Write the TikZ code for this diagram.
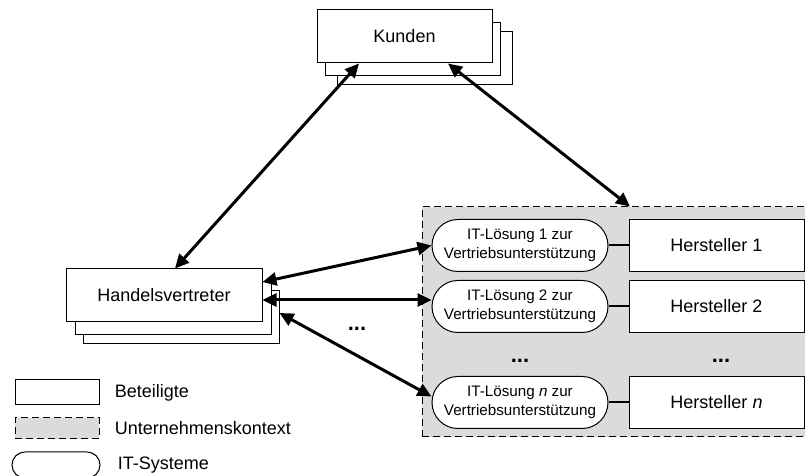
\documentclass[tikz,border=0pt]{standalone}
\usepackage{fontspec}
\setmainfont{Liberation Sans}
\usetikzlibrary{arrows.meta,positioning,shapes.misc}

\begin{document}
\begin{tikzpicture}[x=0.5pt,y=-0.5pt,
  party/.style={draw,fill=white,line width=0.5pt,minimum height=26.5pt,inner sep=0pt,font=\fontsize{9}{11}\selectfont},
  itsys/.style={rounded rectangle,draw,fill=white,line width=0.5pt,minimum width=88pt,minimum height=26pt,inner sep=0pt,align=center,font=\fontsize{7.6}{9.5}\selectfont},
  ctxarea/.style={draw,dash pattern=on 3.5pt off 2pt,fill=black!14,line width=0.5pt,inner sep=0pt},
  link/.style={{Triangle[length=7pt,width=6.5pt]}-{Triangle[length=7pt,width=6.5pt]},line width=1.5pt},
  dots/.style={anchor=base,inner sep=0pt,font=\fontsize{11}{13}\selectfont\bfseries},
  legendtext/.style={inner sep=0pt,font=\fontsize{9}{11}\selectfont}
]
  \useasboundingbox (0,0) rectangle (805,476);

  % Kunden
  \node[party,minimum width=87.5pt] (kd3) at (425,58.5) {};
  \node[party,minimum width=87.5pt] (kd2) at (412.5,49.5) {};
  \node[party,minimum width=87.5pt] (kd) at (404.5,36.5) {Kunden};

  % Handelsvertreter
  \node[party,minimum width=98pt] (hv3) at (181,317.5) {};
  \node[party,minimum width=98pt] (hv2) at (173,308.5) {};
  \node[party,minimum width=98pt] (hv) at (164,295.5) {Handelsvertreter};

  % Unternehmenskontext
  \node[ctxarea,minimum width=192pt,minimum height=115pt] (ctx) at (614,322) {};

  \node[itsys] (it1) at (520,245.5) {IT-L\"osung 1 zur\\Vertriebsunterst\"utzung};
  \node[itsys] (it2) at (520,306.5) {IT-L\"osung 2 zur\\Vertriebsunterst\"utzung};
  \node[itsys] (itn) at (520,402.5) {IT-L\"osung \textit{n} zur\\Vertriebsunterst\"utzung};

  \node[party,minimum width=87.5pt,minimum height=26pt,right=10pt of it1] (hs1) {Hersteller 1};
  \node[party,minimum width=87.5pt,minimum height=26pt,right=10pt of it2] (hs2) {Hersteller 2};
  \node[party,minimum width=87.5pt,minimum height=26pt,right=10pt of itn] (hsn) {Hersteller \textit{n}};

  \draw[line width=1pt] (it1.east) -- (hs1.west);
  \draw[line width=1pt] (it2.east) -- (hs2.west);
  \draw[line width=1pt] (itn.east) -- (hsn.west);

  \node[dots] (dl) at (520,363) {...};
  \node[dots] (dr) at (721,363) {...};
  \node[dots] (dh) at (357,331) {...};

  % Beziehungen
  \draw[link] ([xshift=5.5pt]hv.north) -- ([xshift=-22.75pt]kd.south);
  \draw[link] ([xshift=21.75pt]kd.south) -- ([xshift=8pt]ctx.north);
  \draw[link] ([yshift=6.75pt]hv.east) -- (it1.west);
  \draw[link] ([yshift=-2.25pt]hv.east) -- ([yshift=3.25pt]it2.west);
  \draw[link] ([yshift=2.25pt]hv3.east) -- ([yshift=3pt]itn.west);

  % Legende
  \node[draw,line width=0.5pt,minimum width=42pt,minimum height=12.5pt,inner sep=0pt] (lg1) at (57,392.5) {};
  \node[ctxarea,minimum width=42pt,minimum height=10.5pt] (lg2) at (57,428.5) {};
  \node[itsys,minimum width=44pt,minimum height=13pt] (lg3) at (56,465) {};
  \node[legendtext,right=7.5pt of lg1] (lt1) {Beteiligte};
  \node[legendtext,right=7.5pt of lg2] (lt2) {Unternehmenskontext};
  \node[legendtext,right=8.5pt of lg3] (lt3) {IT-Systeme};
\end{tikzpicture}
\end{document}
